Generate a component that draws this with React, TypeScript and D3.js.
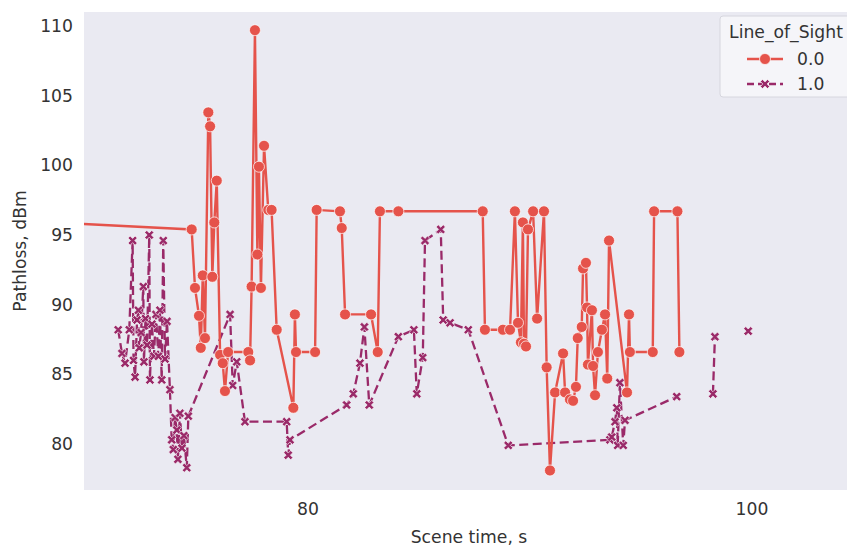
import React from "react";
import * as d3 from "d3";

// Line_of_Sight = 0.0
const losTime0 = [
  68.6, 74.76, 74.91, 75.09, 75.17, 75.26, 75.36, 75.51, 75.59, 75.69, 75.78, 75.89,
  76.04, 76.16, 76.26, 76.4, 77.31, 77.39, 77.46, 77.61, 77.72, 77.79, 77.88, 78.02,
  78.21, 78.36, 78.59, 79.34, 79.41, 79.46, 80.32, 80.39, 81.44, 81.52, 81.67, 82.84,
  83.14, 83.24, 84.07, 87.87, 87.97, 88.78, 89.1, 89.32, 89.46, 89.59, 89.68, 89.73,
  89.82, 89.91, 90.14, 90.32, 90.63, 90.75, 90.9, 91.13, 91.49, 91.58, 91.8, 91.94,
  92.07, 92.15, 92.33, 92.39, 92.52, 92.57, 92.61, 92.79, 92.84, 92.93, 93.06, 93.24,
  93.38, 93.48, 93.56, 94.37, 94.46, 94.5, 95.53, 95.59, 96.64, 96.73,
];
const losPathloss0 = [
  95.9, 95.4, 91.2, 89.2, 86.9, 92.1, 87.6, 103.8, 102.8, 92.0, 95.9, 98.9,
  86.4, 85.8, 83.8, 86.6, 86.6, 86.0, 91.3, 109.7, 93.6, 99.9, 91.2, 101.4,
  96.8, 96.8, 88.2, 82.6, 89.3, 86.6, 86.6, 96.8, 96.7, 95.5, 89.3, 89.3,
  86.6, 96.7, 96.7, 96.7, 88.2, 88.2, 88.2, 96.7, 88.7, 87.3, 95.9, 87.2,
  87.0, 95.4, 96.7, 89.0, 96.7, 85.5, 78.1, 83.7, 86.5, 83.7, 83.2, 83.1,
  84.1, 87.6, 88.4, 92.6, 93.0, 89.8, 85.7, 89.6, 85.6, 83.5, 86.6, 88.2,
  89.3, 84.7, 94.6, 83.7, 89.3, 86.6, 86.6, 96.7, 96.7, 86.6,
];

// Line_of_Sight = 1.0 (NaN = missing sample, line broken there)
const losTime1 = [
  71.45, 71.62, 71.76, 71.95, 72.1, 72.14, 72.21, 72.3, 72.36, 72.4, 72.48, 72.58,
  72.61, 72.68, 72.75, 72.85, 72.88, 72.97, 73.06, 73.15, 73.26, 73.33, 73.41, 73.48,
  73.56, 73.65, 73.78, 73.86, 73.93, 74.01, 74.09, 74.14, 74.23, 74.32, 74.41, 74.54,
  74.61, 76.49, 76.61, 76.79, 77.16, 79.04, 79.11, 79.19, 81.74, 82.04, 82.34, 82.54,
  82.76, 84.07, 84.77, 84.9, 85.17, 85.27, 85.98, 86.09, 86.4, 87.22, 89.02, 93.6,
  93.68, 93.83, 93.91, 93.95, 94.05, 94.2, 94.28, 96.61, 97.5, 98.24, 98.33, 99.0, 99.83,
];
const losPathloss1 = [
  88.2, 86.5, 85.8, 88.2, 94.6, 86.0, 84.8, 88.9, 89.6, 86.9, 88.0, 91.3,
  85.9, 89.0, 87.1, 95.0, 84.6, 88.6, 86.3, 89.3, 86.3, 89.6, 84.6, 94.6,
  86.1, 88.8, 83.9, 80.3, 79.6, 81.9, 81.0, 78.9, 82.2, 79.7, 80.6, 78.3,
  82.0, 89.3, 84.2, 85.9, 81.6, 81.6, 79.2, 80.3, 82.8, 83.6, 85.8, 88.4,
  82.8, 87.7, 88.2, 83.6, 86.2, 94.6, 95.4, 88.9, 88.7, 88.2, 79.9, 80.3,
  80.5, 81.6, 82.6, 79.9, 84.4, 79.9, 81.7, 83.4, NaN, 83.6, 87.7, NaN, 88.1,
];

const xTicks = [80, 100];
const yTicks = [80, 85, 90, 95, 100, 105, 110];
const legendLabels = ["0.0", "1.0"];

const W = 847;
const H = 547;
const plot = { left: 84, right: 854, top: 12, bottom: 490 };

const red = "#e5534b";
const purple = "#9a2a69";
const font = "'DejaVu Sans', sans-serif";
const fs = 17.2;
const dash = "9,4.5";

// filled "X" marker
const xMarker = (s, w) =>
  `M${-w},${-s}L${w},${-s}L${w},${-w}L${s},${-w}L${s},${w}L${w},${w}L${w},${s}L${-w},${s}L${-w},${w}L${-s},${w}L${-s},${-w}L${-w},${-w}Z`;

export default function App() {
  const x = d3.scaleLinear().domain([80, 100]).range([308, 752]);
  const y = d3.scaleLinear().domain([80, 110]).range([444, 26]);

  const pts0 = losTime0.map((t, i) => [t, losPathloss0[i]]);
  const pts1 = losTime1.map((t, i) => [t, losPathloss1[i]]);

  const line = d3
    .line()
    .defined((d) => !isNaN(d[1]))
    .x((d) => x(d[0]))
    .y((d) => y(d[1]));

  const xPath = xMarker(5, 1.5);

  return (
    <svg
      width={W}
      height={H}
      style={{ position: "absolute", left: 0, top: 0, background: "#fff" }}
      fontFamily={font}
    >
      <defs>
        <clipPath id="plotClip">
          <rect x={plot.left} y={plot.top} width={plot.right - plot.left} height={plot.bottom - plot.top} />
        </clipPath>
      </defs>
      <rect
        x={plot.left}
        y={plot.top}
        width={plot.right - plot.left}
        height={plot.bottom - plot.top}
        fill="#eaeaf2"
      />

      <g clipPath="url(#plotClip)">
        {/* LOS 1.0 */}
        <path
          d={line(pts1)}
          fill="none"
          stroke={purple}
          strokeWidth={2.3}
          strokeDasharray={dash}
        />
        {pts1
          .filter((d) => !isNaN(d[1]))
          .map((d, i) => (
            <path
              key={"m1" + i}
              d={xPath}
              transform={`translate(${x(d[0])},${y(d[1])}) rotate(45)`}
              fill={purple}
              stroke="#fff"
              strokeWidth={0.6}
            />
          ))}
        {/* LOS 0.0 */}
        <path d={line(pts0)} fill="none" stroke={red} strokeWidth={2.4} />
        {pts0.map((d, i) => (
          <circle
            key={"m0" + i}
            cx={x(d[0])}
            cy={y(d[1])}
            r={5.5}
            fill={red}
            stroke="#fff"
            strokeWidth={0.7}
          />
        ))}
      </g>

      {/* axes */}
      {yTicks.map((v) => (
        <text
          key={"y" + v}
          x={73}
          y={y(v)}
          dy="0.35em"
          textAnchor="end"
          fontSize={fs}
          fill="#333"
        >
          {v}
        </text>
      ))}
      {xTicks.map((v) => (
        <text
          key={"x" + v}
          x={x(v)}
          y={515}
          textAnchor="middle"
          fontSize={fs}
          fill="#333"
        >
          {v}
        </text>
      ))}
      <text x={469} y={543} textAnchor="middle" fontSize={fs} fill="#333">
        Scene time, s
      </text>
      <text
        transform={`translate(26,${(plot.top + plot.bottom) / 2}) rotate(-90)`}
        textAnchor="middle"
        fontSize={fs}
        fill="#333"
      >
        Pathloss, dBm
      </text>

      {/* legend */}
      <g>
        <rect
          x={720}
          y={16}
          width={140}
          height={81}
          rx={3}
          fill="#ffffff"
          fillOpacity={0.5}
          stroke="#d6d6de"
        />
        <text x={786} y={38} textAnchor="middle" fontSize={fs} fill="#333">
          Line_of_Sight
        </text>
        {legendLabels.map((lab, i) => {
          const ly = 59 + i * 25;
          const c = i === 0 ? red : purple;
          return (
            <g key={lab}>
              <line
                x1={747}
                x2={783}
                y1={ly}
                y2={ly}
                stroke={c}
                strokeWidth={2.3}
                strokeDasharray={i === 0 ? undefined : "7,4"}
              />
              {i === 0 ? (
                <circle cx={765} cy={ly} r={5.5} fill={c} stroke="#fff" strokeWidth={0.7} />
              ) : (
                <path
                  d={xPath}
                  transform={`translate(765,${ly}) rotate(45)`}
                  fill={c}
                  stroke="#fff"
                  strokeWidth={0.6}
                />
              )}
              <text x={797} y={ly} dy="0.35em" fontSize={fs} fill="#333">
                {lab}
              </text>
            </g>
          );
        })}
      </g>
    </svg>
  );
}
